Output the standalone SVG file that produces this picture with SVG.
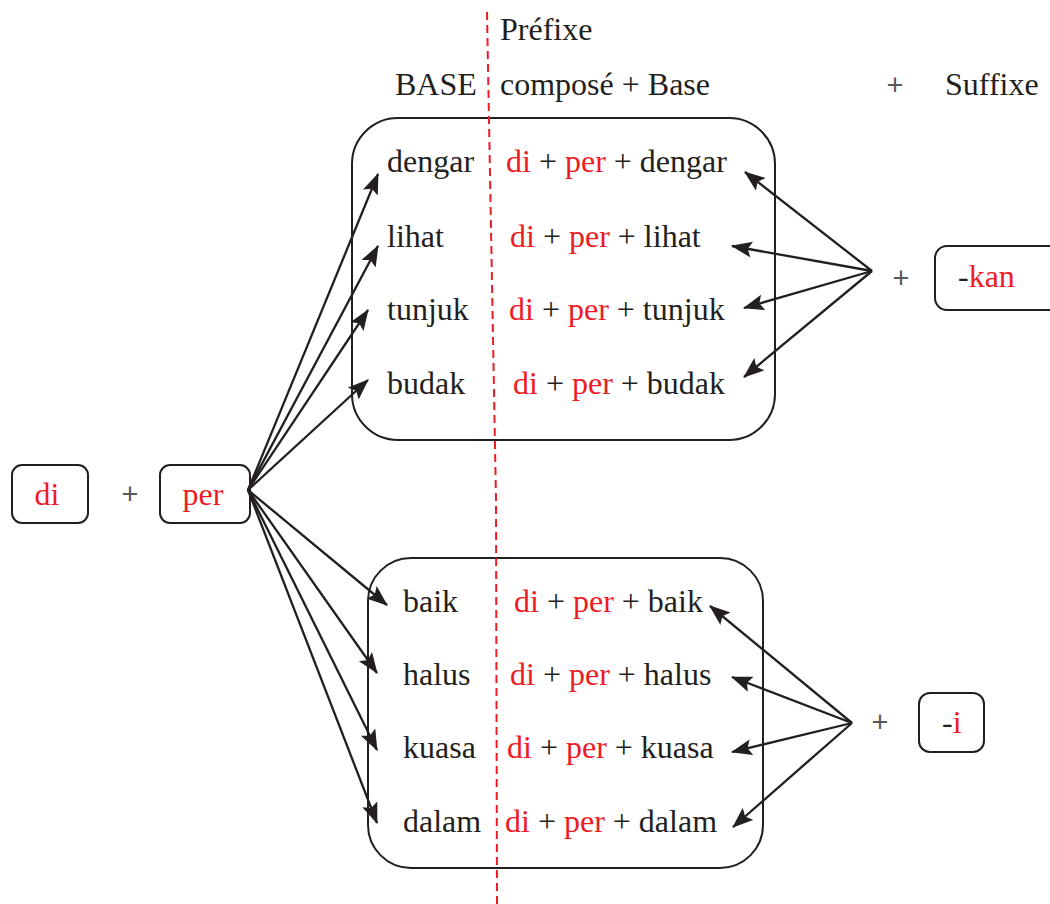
<svg xmlns="http://www.w3.org/2000/svg" width="1050" height="904" viewBox="0 0 1050 904">
<defs>
<style>
.t{font-family:"Liberation Serif","Times New Roman",serif;font-size:32px;fill:#231f20}
.r{fill:#ed1c24}
.p{font-family:"Liberation Sans",Arial,sans-serif;font-size:29px;fill:#58595b;text-anchor:middle}
.box{fill:#fff;stroke:#231f20;stroke-width:2}
.big{fill:none;stroke:#231f20;stroke-width:2}
.c{stroke:#231f20;stroke-width:2.3;fill:none;marker-end:url(#ah)}
</style>
<marker id="ah" markerUnits="userSpaceOnUse" markerWidth="22" markerHeight="18" refX="20" refY="8" orient="auto">
<path d="M0,0 L21,8 L0,16 L4,8 Z" fill="#231f20"/>
</marker>
</defs>
<rect width="1050" height="904" fill="#fff"/>

<g id="header">
<text class="t" x="500" y="40">Préfixe</text>
<text class="t" x="395" y="95">BASE</text>
<text class="t" x="500" y="95">composé + Base</text>
<text class="p" x="895" y="95">+</text>
<text class="t" x="945" y="95">Suffixe</text>
</g>

<g id="box-top"><rect class="big" x="352" y="118" width="423" height="322" rx="46"/></g>
<g id="box-bottom"><rect class="big" x="368" y="558" width="395" height="310" rx="43"/></g>

<polyline points="487,12 496,500 497,904" fill="none" stroke="#ed1c24" stroke-width="2" stroke-dasharray="8,5"/>

<g id="rows-top">
<text class="t" x="387" y="172">dengar</text>
<text class="t" x="387" y="247">lihat</text>
<text class="t" x="387" y="320">tunjuk</text>
<text class="t" x="387" y="394">budak</text>
<text class="t" x="506" y="172"><tspan class="r">di</tspan> + <tspan class="r">per</tspan> + dengar</text>
<text class="t" x="510" y="247"><tspan class="r">di</tspan> + <tspan class="r">per</tspan> + lihat</text>
<text class="t" x="509" y="320"><tspan class="r">di</tspan> + <tspan class="r">per</tspan> + tunjuk</text>
<text class="t" x="513" y="394"><tspan class="r">di</tspan> + <tspan class="r">per</tspan> + budak</text>
</g>

<g id="rows-bottom">
<text class="t" x="403" y="612">baik</text>
<text class="t" x="403" y="685">halus</text>
<text class="t" x="403" y="758">kuasa</text>
<text class="t" x="403" y="832">dalam</text>
<text class="t" x="514" y="612"><tspan class="r">di</tspan> + <tspan class="r">per</tspan> + baik</text>
<text class="t" x="510" y="685"><tspan class="r">di</tspan> + <tspan class="r">per</tspan> + halus</text>
<text class="t" x="507" y="758"><tspan class="r">di</tspan> + <tspan class="r">per</tspan> + kuasa</text>
<text class="t" x="505" y="832"><tspan class="r">di</tspan> + <tspan class="r">per</tspan> + dalam</text>
</g>

<g id="node-di">
<rect class="box" x="12" y="465" width="76" height="58" rx="10"/>
<text class="t r" x="47" y="505" text-anchor="middle">di</text>
</g>
<text class="p" x="130" y="504">+</text>
<g id="node-per">
<rect class="box" x="160" y="465" width="90" height="58" rx="10"/>
<text class="t r" x="203" y="505" text-anchor="middle">per</text>
</g>

<g id="node-kan">
<rect class="box" x="935" y="246" width="130" height="64" rx="12"/>
<text class="t" x="958" y="287">-<tspan class="r">kan</tspan></text>
</g>
<text class="p" x="901" y="288">+</text>

<g id="node-i">
<rect class="box" x="919" y="693" width="65" height="59" rx="11"/>
<text class="t" x="942" y="733">-<tspan class="r">i</tspan></text>
</g>
<text class="p" x="880" y="732">+</text>

<g id="connectors">
<line class="c" x1="248" y1="490" x2="378" y2="174"/>
<line class="c" x1="248" y1="490" x2="378" y2="246"/>
<line class="c" x1="248" y1="490" x2="368" y2="310"/>
<line class="c" x1="248" y1="490" x2="368" y2="380"/>
<line class="c" x1="248" y1="490" x2="387" y2="605"/>
<line class="c" x1="248" y1="490" x2="377" y2="673"/>
<line class="c" x1="248" y1="490" x2="377" y2="750"/>
<line class="c" x1="248" y1="490" x2="377" y2="823"/>
<line class="c" x1="872" y1="271" x2="745" y2="172"/>
<line class="c" x1="872" y1="271" x2="732" y2="246"/>
<line class="c" x1="872" y1="271" x2="744" y2="308"/>
<line class="c" x1="872" y1="271" x2="744" y2="377"/>
<line class="c" x1="852" y1="723" x2="710" y2="606"/>
<line class="c" x1="852" y1="723" x2="732" y2="677"/>
<line class="c" x1="852" y1="723" x2="732" y2="752"/>
<line class="c" x1="852" y1="723" x2="733" y2="827"/>
</g>
</svg>
